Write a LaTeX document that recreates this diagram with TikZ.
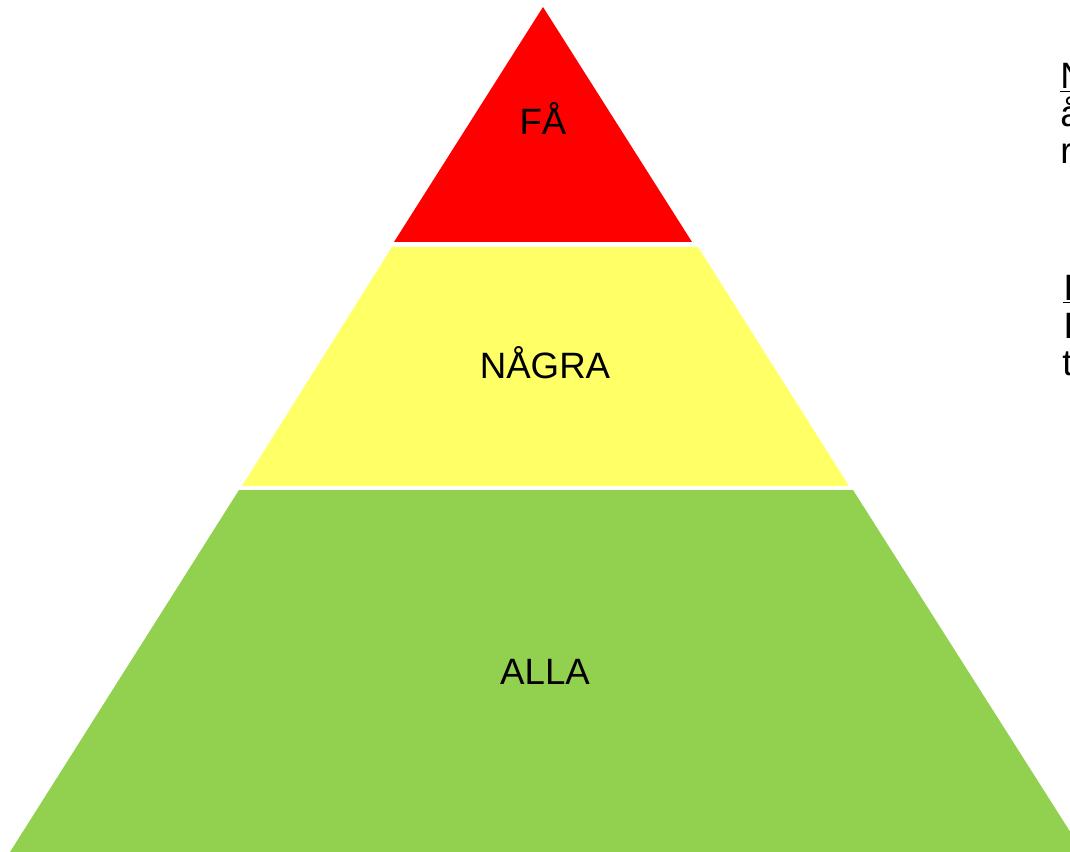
\documentclass[tikz,border=0pt]{standalone}
\usepackage{fontspec}
\setmainfont{Liberation Sans}
\definecolor{topred}{HTML}{FF0000}
\definecolor{midyellow}{HTML}{FFFF66}
\definecolor{basegreen}{HTML}{92D050}
\tikzset{
  layer/.style={draw=none},
  lvltext/.style={anchor=base,inner sep=0pt,font=\fontsize{27.5pt}{31pt}\selectfont},
  sidetext/.style={anchor=base west,inner sep=0pt,font=\fontsize{27.5pt}{31pt}\selectfont}
}
\begin{document}
\begin{tikzpicture}[x=0.75pt,y=0.75pt,yscale=-1,xscale=1]
\useasboundingbox (0,0) rectangle (1070,852);
\clip (0,0) rectangle (1070,852);

%Shape: Triangle [top]
\fill[layer,topred] (543,7) -- (692,242) -- (394,242) -- cycle ;
%Shape: Trapezoid [middle]
\fill[layer,midyellow] (392,247) -- (698,247) -- (849,486) -- (242,486) -- cycle ;
%Shape: Trapezoid [bottom]
\fill[layer,basegreen] (239,490) -- (853,490) -- (1083,852) -- (10,852) -- cycle ;

% Text Node
\node[lvltext] (fa) at (543,135) {FÅ};
% Text Node
\node[lvltext] (nagra) at (545,378) {NÅGRA};
% Text Node
\node[lvltext] (alla) at (545,684) {ALLA};

% Text Node
\node[sidetext] (sidea) at (1060,89) {\underline{N}};
\node[sidetext] (sideb) at (1060,127) {å};
\node[sidetext] (sidec) at (1060,164) {r};
% Text Node
\node[sidetext] (sided) at (1063,300) {\underline{I}};
\node[sidetext] (sidee) at (1063,338) {I};
\node[sidetext] (sidef) at (1062,375) {t};

\end{tikzpicture}
\end{document}
